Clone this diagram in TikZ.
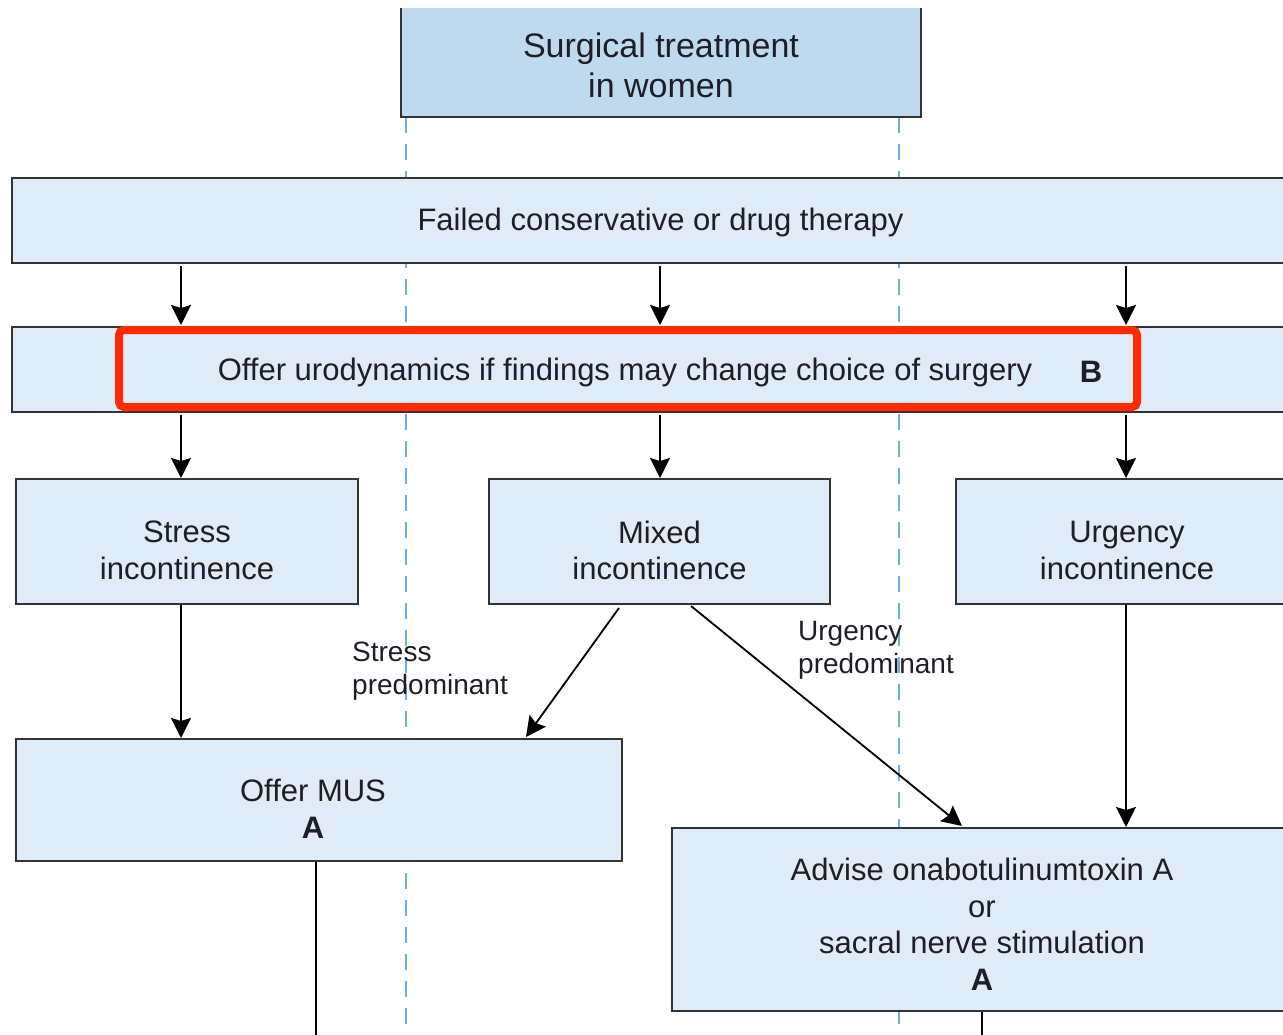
\documentclass[tikz,border=0pt]{standalone}
\usepackage{fontspec}
\setmainfont{Liberation Sans}
\usetikzlibrary{shadows,calc,arrows.meta}
\definecolor{lightfill}{HTML}{DFEBF6}
\definecolor{topfill}{HTML}{BFDAEE}
\definecolor{dashblue}{HTML}{6FAEDF}
\definecolor{edge}{HTML}{333333}
\definecolor{txt}{HTML}{1E1E28}
\definecolor{hlred}{HTML}{FF2A00}
\begin{document}
\begin{tikzpicture}[x=1pt,y=-1pt,
  box/.style={draw=edge, line width=2pt, fill=lightfill, inner sep=0pt},
  boxtext/.style={text=txt, align=center, font=\fontsize{31}{36.5}\selectfont, inner sep=0pt},
  topbox/.style={fill=topfill, inner sep=0pt},
  toptext/.style={text=txt, align=center, font=\fontsize{34}{40}\selectfont, inner sep=0pt},
  border/.style={draw=edge, line width=2pt},
  lbl/.style={text=txt, align=left, font=\fontsize{28}{33}\selectfont, inner sep=0pt},
  arr/.style={-{Stealth[length=20pt,width=20pt,inset=3pt]}, line width=1.8pt, black},
  conn/.style={line width=1.8pt, black},
  dashline/.style={draw=dashblue, line width=2.4pt, dash pattern=on 16pt off 11pt},
  redbox/.style={draw=hlred, fill=lightfill, line width=8pt, rounded corners=5pt,
    drop shadow={opacity=0.25, shadow xshift=3pt, shadow yshift=-3pt}}
]
\useasboundingbox (0,0) rectangle (1283,1035);
\clip (0,0) rectangle (1283,1035);

\coordinate (cA) at (181,0);
\coordinate (cB) at (660,0);
\coordinate (cC) at (1126,0);
\coordinate (cM) at (316,0);
\coordinate (cL) at (406,0);
\coordinate (cR) at (899,0);
\coordinate (bot) at (0,1045);

% top box
\node[topbox, minimum width=520pt, minimum height=109pt] (top) at (661,62.5) {};
\node[toptext] (topT) at ([yshift=-3pt]top.center) {Surgical treatment\\in women};

% dashed guide lines
\draw[dashline] (top.south -| cL) -- (cL |- bot);
\draw[dashline] (top.south -| cR) -- (cR |- bot);

\draw[border] (top.north west) -- (top.south west) -- (top.south east) -- (top.north east);

% boxes
\node[box, minimum width=1297pt, minimum height=85pt] (failed) at (660.5,220.5) {};
\node[boxtext] (failedT) at ([yshift=-2pt]failed.center) {Failed conservative or drug therapy};
\node[box, minimum width=1297pt, minimum height=85pt] (offer) at (660.5,369.5) {};
\node[box, minimum width=342pt, minimum height=125pt] (stress) at (187,541.5) {};
\node[boxtext] (stressT) at ([yshift=-9pt]stress.center) {Stress\\incontinence};
\node[box, minimum width=341pt, minimum height=125pt] (mixed) at (659.5,541.5) {};
\node[boxtext] (mixedT) at ([yshift=-9pt]mixed.center) {Mixed\\incontinence};
\node[box, minimum width=342pt, minimum height=125pt] (urg) at (1127,541.5) {};
\node[boxtext] (urgT) at ([yshift=-9pt]urg.center) {Urgency\\incontinence};
\node[box, minimum width=606pt, minimum height=122pt] (mus) at (319,800) {};
\node[boxtext] (musT) at ([xshift=-6pt,yshift=-9pt]mus.center) {Offer MUS\\\textbf{A}};
\node[box, minimum width=620pt, minimum height=183pt] (adv) at (982,919.5) {};
\node[boxtext] (advT) at ([yshift=-5pt]adv.center) {Advise onabotulinumtoxin A\\or\\sacral nerve stimulation\\\textbf{A}};

% highlight
\node[redbox, minimum width=1018pt, minimum height=77pt] (hl) at (628,368.5) {};
\node[boxtext] (offtxt) at (625,372) {Offer urodynamics if findings may change choice of surgery};
\node[boxtext, font=\fontsize{31}{36}\selectfont\bfseries] (grB) at (1091,372) {B};

% labels
\node[lbl, anchor=north west] (lS) at (352,642) {Stress\\predominant};
\node[lbl, anchor=north west] (lU) at (798,621) {Urgency\\predominant};

% arrows
\draw[arr] ([yshift=-2pt]failed.south -| cA) -- ([yshift=1pt]offer.north -| cA);
\draw[arr] ([yshift=-2pt]failed.south -| cB) -- ([yshift=1pt]offer.north -| cB);
\draw[arr] ([yshift=-2pt]failed.south -| cC) -- ([yshift=1pt]offer.north -| cC);
\draw[arr] ([yshift=-2pt]offer.south -| cA) -- (stress.north -| cA);
\draw[arr] ([yshift=-2pt]offer.south -| cB) -- (mixed.north -| cB);
\draw[arr] ([yshift=-2pt]offer.south -| cC) -- (urg.north -| cC);
\draw[arr] (stress.south -| cA) -- (mus.north -| cA);
\draw[arr] ($(mixed.south west)+(131,3)$) -- ($(mus.north west)+(511,-1)$);
\draw[arr] ($(mixed.south west)+(203,1)$) -- ($(adv.north west)+(291,-1)$);
\draw[arr] (urg.south -| cC) -- (adv.north -| cC);
\draw[conn] (mus.south -| cM) -- (cM |- bot);
\draw[conn] (adv.south) -- (adv.south |- bot);
\end{tikzpicture}
\end{document}
